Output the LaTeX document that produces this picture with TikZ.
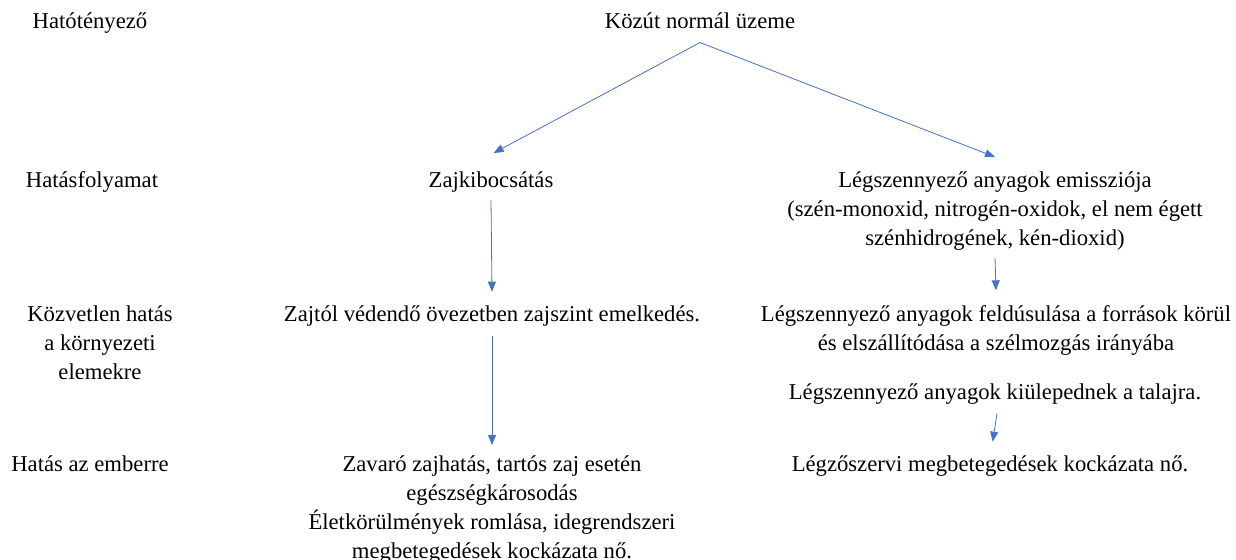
\documentclass[tikz,border=0pt]{standalone}
\usepackage{fontspec}
\setmainfont{Liberation Serif}
\usetikzlibrary{arrows.meta}
\definecolor{arrowblue}{RGB}{68,114,196}

\begin{document}
\begin{tikzpicture}
	[%
	x=0.75pt, y=-0.75pt,%
	txt/.style ={font=\fontsize{17}{21.75}\selectfont,	align=center,	inner sep=0pt,	anchor=north},%
	flow/.style={draw=arrowblue,	line width=0.6pt,	-{Triangle[length=7.5pt,width=6pt]}},%
	]

	\useasboundingbox (0,0) rectangle (1236,560);

	% row labels
	\node (factor)   at (90,12)  [txt] {Hatótényező};
	\node (process)  at (92,171) [txt] {Hatásfolyamat};
	\node (direct)   at (100,305)[txt] {Közvetlen hatás\\a környezeti\\elemekre};
	\node (human)    at (90,455) [txt] {Hatás az emberre};

	% source
	\node (road)     at (700,12) [txt] {Közút normál üzeme};

	% noise branch
	\node (noise)    at (491,171) [txt] {Zajkibocsátás};
	\node (level)    at (492,305) [txt] {Zajtól védendő övezetben zajszint emelkedés.};
	\node (annoy)    at (492,455) [txt] {Zavaró zajhatás, tartós zaj esetén\\egészségkárosodás\\Életkörülmények romlása, idegrendszeri\\megbetegedések kockázata nő.};

	% air branch
	\node (emission) at (995,171) [txt] {Légszennyező anyagok emissziója\\(szén-monoxid, nitrogén-oxidok, el nem égett\\szénhidrogének, kén-dioxid)};
	\node (enrich)   at (996,305) [txt] {Légszennyező anyagok feldúsulása a források körül\\és elszállítódása a szélmozgás irányába};
	\node (settle)   at (995,383) [txt] {Légszennyező anyagok kiülepednek a talajra.};
	\node (lung)     at (990,455) [txt] {Légzőszervi megbetegedések kockázata nő.};

	% arrows
	\draw [flow] ([yshift=-10.5pt]road.south) to ([xshift=2pt,yshift=13.5pt]noise.north);
	\draw [flow] ([yshift=-10.5pt]road.south) to ([yshift=10.5pt]emission.north);
	\draw [flow] ([yshift=-6pt]noise.south)   to ([yshift=10pt]level.north);
	\draw [flow] ([yshift=-7.5pt]level.south) to ([yshift=7.5pt]annoy.north);
	\draw [flow] ([yshift=-6pt]emission.south) to ([yshift=11pt]enrich.north);
	\draw [flow] ([xshift=1.5pt,yshift=-7pt]settle.south) to ([xshift=2pt,yshift=10pt]lung.north);

\end{tikzpicture}
\end{document}
